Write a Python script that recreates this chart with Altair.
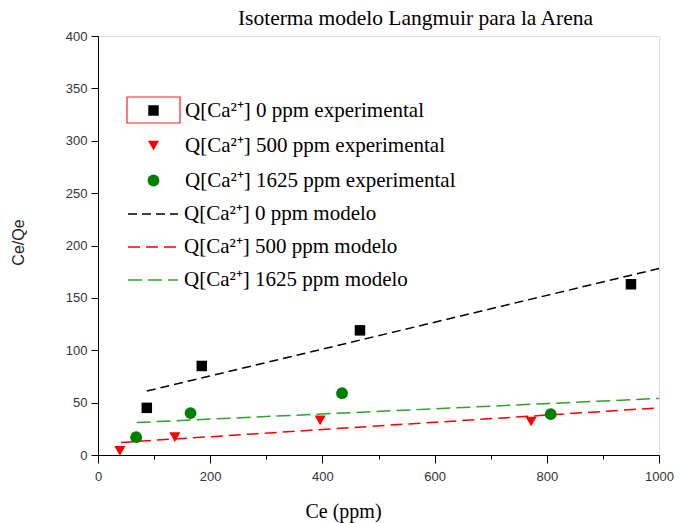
import altair as alt
import pandas as pd

# Experimental points (Ce in ppm, Ce/Qe)
exp_labels = [
    "Q[Ca²⁺] 0 ppm experimental",
    "Q[Ca²⁺] 500 ppm experimental",
    "Q[Ca²⁺] 1625 ppm experimental",
]
ce_0 = [87, 185, 467, 950]
cq_0 = [45, 85, 119, 163]
ce_500 = [39, 137, 396, 772]
cq_500 = [4, 17, 33, 32]
ce_1625 = [68, 165, 435, 807]
cq_1625 = [17, 40, 59, 39]

# Model (linearised Langmuir) lines: end points
mod_labels = [
    "Q[Ca²⁺] 0 ppm modelo",
    "Q[Ca²⁺] 500 ppm modelo",
    "Q[Ca²⁺] 1625 ppm modelo",
]
mce_0 = [87, 1000]
mcq_0 = [61, 178]
mce_500 = [41, 1000]
mcq_500 = [12, 45]
mce_1625 = [69, 1000]
mcq_1625 = [31, 54]

colors = ["#000000", "#ff0000", "#008000"]
line_colors = ["#000000", "#ff0000", "#33a02c"]

rows = []
for lab, xs, ys in zip(exp_labels, [ce_0, ce_500, ce_1625], [cq_0, cq_500, cq_1625]):
    for x, y in zip(xs, ys):
        rows.append({"serie": lab, "ce": x, "cq": y})
exp_df = pd.DataFrame(rows)

rows = []
for lab, xs, ys in zip(mod_labels, [mce_0, mce_500, mce_1625], [mcq_0, mcq_500, mcq_1625]):
    for x, y in zip(xs, ys):
        rows.append({"serie": lab, "trazo": lab, "ce": x, "cq": y})
mod_df = pd.DataFrame(rows)

serif = "Liberation Serif"
sans = "Liberation Sans"

x_scale = alt.Scale(domain=[0, 1000], nice=False, zero=False)
y_scale = alt.Scale(domain=[0, 400], nice=False, zero=False)

x_axis = alt.Axis(
    title="Ce (ppm)",
    values=list(range(0, 1001, 100)),
    format="d",
    labelExpr="datum.value % 200 === 0 ? datum.label : ''",
    tickSize={"condition": {"test": "datum.value % 200 === 0", "value": 8}, "value": 4},
    labelPadding=7,
    labelFlush=False,
    grid=False,
    domainColor="black",
    tickColor="black",
    labelFont=sans,
    labelFontSize=13,
    labelColor="#333333",
    titleFont=serif,
    titleFontSize=20,
    titleFontWeight="normal",
    titleColor="black",
    titleX=245,
    titleY=56,
    titleBaseline="middle",
    titleAlign="center",
)
y_axis = alt.Axis(
    title="Ce/Qe",
    values=list(range(0, 401, 25)),
    format="d",
    labelExpr="datum.value % 50 === 0 ? datum.label : ''",
    tickSize={"condition": {"test": "datum.value % 50 === 0", "value": 7}, "value": 4},
    labelPadding=4,
    labelFlush=False,
    grid=False,
    domainColor="black",
    tickColor="black",
    labelFont=sans,
    labelFontSize=13,
    labelColor="#333333",
    titleFont=sans,
    titleFontSize=16,
    titleFontWeight="normal",
    titleColor="#222222",
    titleAngle=-90,
    titleX=-80,
    titleY=206,
    titleBaseline="middle",
    titleAlign="center",
)

points = alt.Chart(exp_df).mark_point(filled=True, opacity=1).encode(
    x=alt.X("ce:Q", scale=x_scale, axis=x_axis),
    y=alt.Y("cq:Q", scale=y_scale, axis=y_axis),
    color=alt.Color(
        "serie:N",
        scale=alt.Scale(domain=exp_labels, range=colors),
        legend=alt.Legend(
            title=None,
            orient="none",
            legendX=45,
            legendY=64,
            labelFont=serif,
            labelFontSize=21,
            labelColor="black",
            labelOffset=21,
            rowPadding=13,
            symbolSize=70,
            symbolOpacity=1,
            labelLimit=400,
        ),
    ),
    shape=alt.Shape(
        "serie:N",
        scale=alt.Scale(domain=exp_labels, range=["square", "triangle-down", "circle"]),
        legend=None,
    ),
    size=alt.Size(
        "serie:N",
        scale=alt.Scale(domain=exp_labels, range=[110, 140, 80]),
        legend=None,
    ),
)

lines = alt.Chart(mod_df).mark_line(strokeWidth=1.5).encode(
    x=alt.X("ce:Q", scale=x_scale),
    y=alt.Y("cq:Q", scale=y_scale),
    color=alt.Color(
        "serie:N",
        scale=alt.Scale(domain=mod_labels, range=line_colors),
        legend=alt.Legend(
            title=None,
            orient="none",
            legendX=44,
            legendY=167,
            labelFont=serif,
            labelFontSize=21,
            labelColor="black",
            labelOffset=20,
            rowPadding=12,
            symbolType="M-2.5,0L2.5,0",
            symbolSize=400,
            symbolStrokeWidth=1.5,
            symbolFillColor="transparent",
            symbolDash=[7, 7],
            labelLimit=400,
        ),
    ),
    strokeDash=alt.StrokeDash(
        "trazo:N",
        scale=alt.Scale(domain=mod_labels, range=[[9, 5], [12, 6], [14, 6]]),
        legend=None,
    ),
)

# selection box drawn around the first legend symbol in the original figure
box = alt.Chart(pd.DataFrame({"k": [0]})).mark_rect(
    fill="transparent", stroke="#ff2020", strokeWidth=1.2
).encode(x=alt.value(29), x2=alt.value(82), y=alt.value(61), y2=alt.value(87))

chart = (
    alt.layer(lines, points, box)
    .resolve_scale(color="independent", shape="independent", strokeDash="independent", size="independent")
    .properties(
        width=561,
        height=419,
        title=alt.TitleParams(
            "Isoterma modelo Langmuir para la Arena",
            font=serif,
            fontSize=21.5,
            fontWeight="normal",
            color="black",
            anchor="middle",
            dx=37,
            offset=1,
        ),
        autosize=alt.AutoSizeParams(type="none"),
        padding={"left": 98, "top": 36, "right": 22, "bottom": 68},
    )
    .configure_view(stroke=None)
    .configure(background="white")
)

chart.save("out.html", embed_options={"renderer": "svg", "actions": False})
